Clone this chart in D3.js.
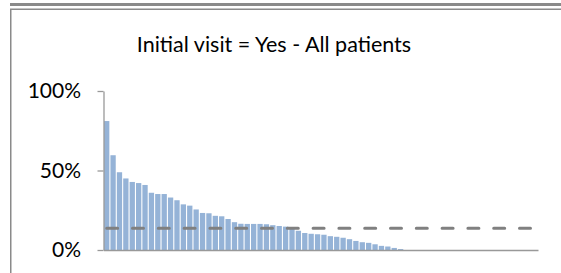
<!DOCTYPE html>
<html>
<head>
<meta charset="utf-8">
<script src="https://cdn.jsdelivr.net/npm/d3@7/dist/d3.min.js"></script>
<style>
  body { margin: 0; background: #fff; }
  svg { display: block; }
</style>
</head>
<body>
<svg width="561" height="273"></svg>
<script>
const title = 'Initial visit = Yes - All patients';

// one bar per site, sorted descending; trailing sites have no patients flagged
const shares = [
  0.811, 0.596, 0.489, 0.450, 0.428, 0.421, 0.409, 0.360, 0.352, 0.352,
  0.330, 0.313, 0.287, 0.279, 0.255, 0.233, 0.231, 0.215, 0.212, 0.195,
  0.175, 0.165, 0.164, 0.164, 0.164, 0.162, 0.156, 0.151, 0.147, 0.134,
  0.121, 0.107, 0.102, 0.099, 0.096, 0.087, 0.083, 0.077, 0.068, 0.057,
  0.049, 0.045, 0.036, 0.026, 0.022, 0.013, 0.006, 0, 0, 0,
  0, 0, 0, 0, 0, 0, 0, 0, 0, 0,
  0, 0, 0, 0, 0, 0, 0, 0
];
const sites = shares.map((_, i) => i + 1);
const overall = 0.137;
const yTicks = [0, 0.5, 1];

const svg = d3.select('svg');

// chart frame (cropped)
svg.append('rect')
  .attr('x', 10).attr('y', 3).attr('width', 560).attr('height', 3)
  .attr('fill', '#8a8a8a');
svg.append('path')
  .attr('d', 'M10.75,280V9.25H570')
  .attr('fill', 'none')
  .attr('stroke', '#8a8a8a')
  .attr('stroke-width', 1.5);

const x = d3
  .scaleBand()
  .domain(sites)
  .range([103.5, 538])
  .paddingInner(0.17)
  .paddingOuter(0.085);

const y = d3.scaleLinear().domain([0, 1]).range([250, 91]);

svg.append('text')
  .attr('x', 274)
  .attr('y', 52)
  .attr('text-anchor', 'middle')
  .style('font-family', 'Lato, sans-serif')
  .style('font-size', '21.5px')
  .attr('fill', '#000')
  .text(title);

svg.append('g')
  .selectAll('rect')
  .data(shares)
  .enter()
  .append('rect')
  .attr('x', (d, i) => x(sites[i]))
  .attr('y', (d) => y(d))
  .attr('width', x.bandwidth())
  .attr('height', (d) => y(0) - y(d))
  .attr('fill', '#95b3d7');

const yAxis = svg
  .append('g')
  .attr('transform', 'translate(103.5,0)')
  .call(
    d3.axisLeft(y)
      .tickValues(yTicks)
      .tickFormat(d3.format('.0%'))
      .tickSize(6)
      .tickSizeOuter(0)
      .tickPadding(16.5)
  );

yAxis.selectAll('path, line').attr('stroke', '#999').attr('stroke-width', 1.3);
yAxis.selectAll('text')
  .style('font-family', 'Lato, sans-serif')
  .style('font-size', '21px')
  .attr('fill', '#000');

const xAxis = svg
  .append('g')
  .attr('transform', `translate(0,${y(0)})`)
  .call(d3.axisBottom(x).tickValues([]).tickSizeOuter(0));
xAxis.select('path').attr('stroke', '#999').attr('stroke-width', 1.5);

// overall average across all sites
const avgLine = d3
  .line()
  .x((d) => x(d) + x.bandwidth() / 2)
  .y(() => y(overall));

svg.append('path')
  .datum([sites[0], sites[sites.length - 1]])
  .attr('d', avgLine)
  .attr('fill', 'none')
  .attr('stroke', '#808080')
  .attr('stroke-width', 3)
  .attr('stroke-linecap', 'round')
  .attr('stroke-dasharray', '11,14.8');
</script>
</body>
</html>
